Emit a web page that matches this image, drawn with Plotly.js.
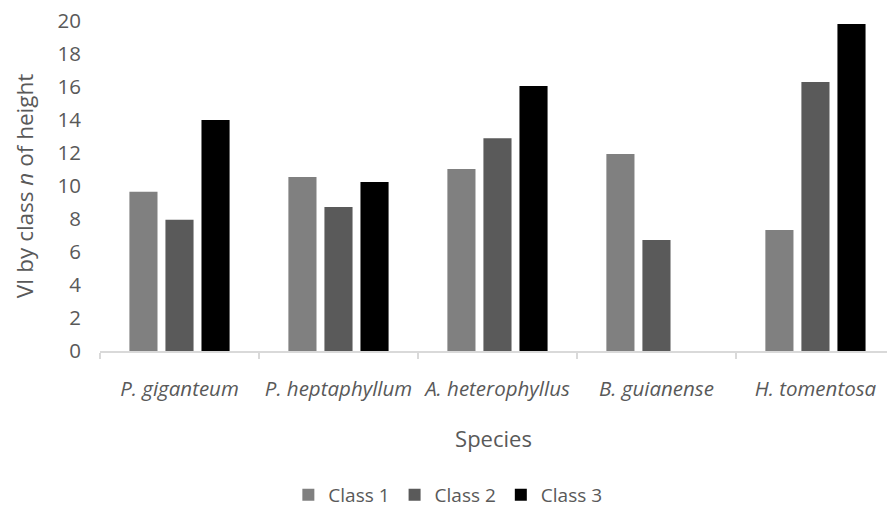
<!DOCTYPE html>
<html>
<head>
<meta charset="utf-8">
<script src="https://cdn.plot.ly/plotly-3.0.1.min.js"></script>
<style>html,body{margin:0;padding:0;background:#fff;}#chart{width:887px;height:516px;}</style>
</head>
<body>
<div id="chart"></div>
<script>
const species = ["P. giganteum", "P. heptaphyllum", "A. heterophyllus", "B. guianense", "H. tomentosa"];
const class1 = [9.65, 10.55, 11.03, 11.94, 7.33];
const class2 = [7.95, 8.73, 12.9, 6.73, 16.3];
const class3 = [14.0, 10.24, 16.06, 0, 19.82];
const seriesNames = ["Class 1", "Class 2", "Class 3"];
const yTicks = [0, 2, 4, 6, 8, 10, 12, 14, 16, 18, 20];

const colors = ["#808080", "#5a5a5a", "#000000"];
const labels = species.map(s => "<i>" + s + "</i>");
const data = [class1, class2, class3].map((vals, i) => ({
  type: "bar",
  name: seriesNames[i],
  x: labels,
  y: vals,
  marker: {color: colors[i], line: {width: 0}},
  hoverinfo: "x+y+name"
}));

const font = "'Open Sans', sans-serif";
const layout = {
  width: 887, height: 516,
  margin: {l: 100, r: 0, t: 21, b: 165},
  paper_bgcolor: "#fff", plot_bgcolor: "#fff",
  barmode: "group",
  bargap: 0.32,
  bargroupgap: 0.22,
  font: {family: font, color: "#595959"},
  xaxis: {
    type: "category",
    range: [-0.5, 4.45],
    showline: true, linecolor: "#d9d9d9", linewidth: 1.5,
    ticks: "outside", tickson: "boundaries", ticklen: 6, tickcolor: "#d9d9d9", tickwidth: 1.5,
    tickfont: {family: font, size: 20.5, color: "#595959"},
    ticklabelstandoff: 19,
    showgrid: false, zeroline: false,
    title: {text: "Species", font: {family: font, size: 22, color: "#595959"}, standoff: 30},
    automargin: false
  },
  yaxis: {
    range: [0, 20],
    tickvals: yTicks,
    ticktext: yTicks.map(String),
    showgrid: false, zeroline: false, showline: false,
    ticks: "",
    tickfont: {family: font, size: 20.5, color: "#595959"},
    ticklabelstandoff: 18,
    title: {text: "VI by class <i>n</i> of height", font: {family: font, size: 22.5, color: "#595959"}, standoff: 17},
    automargin: false
  },
  legend: {
    orientation: "h",
    x: 0.442, xanchor: "center",
    y: -0.436, yanchor: "middle",
    font: {family: font, size: 19, color: "#595959"},
    itemwidth: 30,
    traceorder: "normal"
  },
  showlegend: true
};

Plotly.newPlot("chart", data, layout, {displayModeBar: false, staticPlot: true});
</script>
</body>
</html>
